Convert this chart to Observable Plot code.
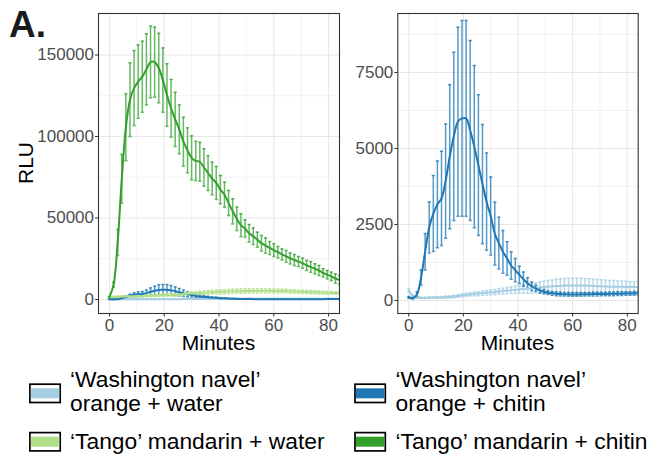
<!DOCTYPE html>
<html>
<head>
<meta charset="utf-8">
<script src="https://cdn.jsdelivr.net/npm/d3@7"></script>
<script src="https://cdn.jsdelivr.net/npm/@observablehq/plot@0.6"></script>
<style>
  html, body { margin: 0; padding: 0; background: #fff; }
  #wrap { position: relative; width: 650px; height: 455px; overflow: hidden; font-family: "Liberation Sans", Arial, sans-serif; }
  #wrap svg { position: absolute; }
  .plot-left { left: 0; top: 0; }
  .plot-right { left: 345px; top: 0; }
</style>
</head>
<body>
<div id="wrap"></div>
<script>
// ---- data (minutes, mean RLU, error) ----
const times = [0,1.5,3,4.5,6,7.5,9,10.5,12,13.5,15,16.5,18,19.5,21,22.5,24,25.5,27,28.5,30,31.5,33,34.5,36,37.5,39,40.5,42,43.5,45,46.5,48,49.5,51,52.5,54,55.5,57,58.5,60,61.5,63,64.5,66,67.5,69,70.5,72,73.5,75,76.5,78,79.5,81,82.5,84];

const navelWaterMean = [330,150,90,85,85,90,95,100,105,110,115,130,150,170,185,200,215,225,240,255,265,280,295,310,325,340,350,365,380,390,400,415,430,445,455,465,475,485,490,495,495,495,495,490,485,480,470,465,460,455,455,450,450,445,440,440,435];
const navelWaterErr = [60,40,20,20,20,25,25,30,30,35,35,40,40,45,50,55,60,65,70,75,80,85,90,95,100,110,120,130,140,150,160,170,180,190,200,210,220,230,235,240,240,240,240,235,230,225,220,215,210,205,200,195,190,185,180,175,170];

const navelChitinMean = [100,80,200,750,1600,2400,2860,3160,3360,3930,4730,5400,5880,5990,5990,5590,5060,4450,3830,3250,2780,2200,1890,1600,1380,1150,1000,840,700,570,470,400,335,290,255,235,220,210,205,200,200,200,200,205,205,210,210,215,215,220,220,225,225,230,230,235,235];
const navelChitinErr = [30,30,80,250,600,840,1250,1425,1550,1880,2370,2770,3110,3220,3220,2960,2670,2315,1960,1600,1280,1030,850,700,550,450,380,285,235,180,140,100,90,70,60,60,60,60,60,60,60,60,60,60,60,60,60,60,60,60,60,60,60,60,60,60,60];

const tangoWaterMean = [1500,1600,1700,1800,1900,2000,2050,2100,2200,2300,2400,2450,2500,2600,2700,2800,2950,3100,3300,3500,3700,3850,4000,4150,4300,4450,4600,4700,4800,4900,5000,5050,5100,5150,5200,5250,5250,5300,5300,5300,5250,5200,5150,5100,5000,4900,4800,4700,4600,4500,4400,4300,4200,4100,4050,4000,3950];
const tangoWaterErr = [400,400,450,450,500,500,550,550,600,600,650,650,700,700,750,750,800,800,850,900,950,1000,1050,1100,1150,1200,1200,1250,1250,1300,1300,1300,1300,1300,1300,1300,1300,1300,1250,1250,1200,1200,1150,1150,1100,1100,1050,1050,1000,1000,950,950,900,900,850,850,800];

const tangoChitinMean = [1400,9000,35000,74000,105700,122600,129700,133700,136700,141200,145700,145600,142000,134600,125400,117300,110500,104400,96800,91500,86900,85000,84500,81000,77600,74200,71500,67400,64300,59200,54100,49500,45600,43600,40600,38800,36700,34500,33100,31600,30300,29000,27700,26500,25200,24200,23300,22300,20900,20000,18800,17800,16300,15200,14200,12900,12000];
const tangoChitinErr = [300,1500,8000,15000,20500,22600,23000,22500,21800,21800,22000,21500,21300,19700,19200,17700,16600,15000,15000,13800,13500,12000,11900,11500,10700,10000,10100,8700,7700,7700,7700,7200,7000,5300,5400,5100,4600,4800,4700,4000,3900,3500,3400,3600,3400,3400,3100,3100,3100,3300,3100,3100,2600,2600,2600,2900,2800];

const seriesNames = ["‘Washington navel’ orange + water", "‘Washington navel’ orange + chitin", "‘Tango’ mandarin + water", "‘Tango’ mandarin + chitin"];
const seriesColors = ["#a6cee3", "#1f78b4", "#b2df8a", "#33a02c"];

const xTicks = [0, 20, 40, 60, 80];
const xMinor = [10, 30, 50, 70];
const yTicksLeft = [0, 50000, 100000, 150000];
const yMinorLeft = [25000, 75000, 125000];
const yTicksRight = [0, 2500, 5000, 7500];
const yMinorRight = [1250, 3750, 6250, 8750];

// ---- build rows ----
function rows(mean, err) {
  return times.map((t, i) => ({t, v: mean[i], lo: mean[i] - err[i], hi: mean[i] + err[i]}));
}
const S = [
  rows(navelWaterMean, navelWaterErr),
  rows(navelChitinMean, navelChitinErr),
  rows(tangoWaterMean, tangoWaterErr),
  rows(tangoChitinMean, tangoChitinErr)
];

const capSymbol = {
  draw(context, size) {
    const r = Math.sqrt(size / Math.PI);
    context.moveTo(-r, 0);
    context.lineTo(r, 0);
  }
};

function panel(idx, opts) {
  const marks = [
    Plot.ruleX(xMinor, {stroke: "#efefef", strokeWidth: 0.8}),
    Plot.ruleY(opts.yMinor, {stroke: "#efefef", strokeWidth: 0.8}),
    Plot.ruleX(xTicks, {stroke: "#e8e8e8", strokeWidth: 1.1}),
    Plot.ruleY(opts.yTicks, {stroke: "#e8e8e8", strokeWidth: 1.1})
  ];
  for (const i of idx) {
    const c = seriesColors[i];
    marks.push(Plot.ruleX(S[i], {x: "t", y1: "lo", y2: "hi", stroke: c, strokeWidth: 1.5, strokeOpacity: 0.75, clip: true}));
    marks.push(Plot.dot(S[i], {x: "t", y: "hi", symbol: capSymbol, r: 1.6, stroke: c, strokeWidth: 1.5, strokeOpacity: 0.75, clip: true}));
    marks.push(Plot.dot(S[i], {x: "t", y: "lo", symbol: capSymbol, r: 1.6, stroke: c, strokeWidth: 1.5, strokeOpacity: 0.75, clip: true}));
  }
  for (const i of idx) {
    marks.push(Plot.line(S[i], {x: "t", y: "v", stroke: seriesColors[i], strokeWidth: 2, curve: "catmull-rom", clip: true}));
  }
  marks.push(Plot.frame({stroke: "#333", strokeWidth: 1.1}));
  marks.push(Plot.axisX(xTicks, {tickSize: 3.5, tickPadding: 1.5, fontSize: 17, stroke: "#333", fill: "#4d4d4d", label: null, tickFormat: d => String(d)}));
  marks.push(Plot.axisY(opts.yTicks, {tickSize: 3, tickPadding: 1.5, fontSize: 17, stroke: "#333", fill: "#4d4d4d", label: null, tickFormat: d => String(d)}));
  return Plot.plot({
    width: opts.width, height: 340,
    marginLeft: opts.ml, marginRight: opts.mr, marginTop: 13, marginBottom: 27,
    x: {domain: [-4, 84]},
    y: {domain: opts.yDomain},
    style: {background: "transparent", overflow: "visible", fontFamily: "Liberation Sans, Arial, sans-serif"},
    className: opts.cls,
    marks
  });
}

const wrap = document.getElementById("wrap");
const left = panel([0, 1, 2, 3], {width: 345, ml: 98, mr: 6, yDomain: [-8590, 175460], yTicks: yTicksLeft, yMinor: yMinorLeft, cls: "plot-left"});
const right = panel([0, 1], {width: 300, ml: 52.3, mr: 7.3, yDomain: [-428, 9441], yTicks: yTicksRight, yMinor: yMinorRight, cls: "plot-right"});
wrap.appendChild(left);
wrap.appendChild(right);

// ---- annotation & legend (real text) ----
const NS = "http://www.w3.org/2000/svg";
const ann = document.createElementNS(NS, "svg");
ann.setAttribute("width", 650); ann.setAttribute("height", 455);
ann.style.left = "0px"; ann.style.top = "0px"; ann.style.pointerEvents = "none";
ann.setAttribute("font-family", "Liberation Sans, Arial, sans-serif");
function txt(x, y, s, attrs = {}) {
  const t = document.createElementNS(NS, "text");
  t.setAttribute("x", x); t.setAttribute("y", y);
  for (const k in attrs) t.setAttribute(k, attrs[k]);
  t.textContent = s;
  ann.appendChild(t);
  return t;
}
function rect(x, y, w, h, attrs) {
  const r = document.createElementNS(NS, "rect");
  r.setAttribute("x", x); r.setAttribute("y", y); r.setAttribute("width", w); r.setAttribute("height", h);
  for (const k in attrs) r.setAttribute(k, attrs[k]);
  ann.appendChild(r);
}
txt(9, 36.5, "A.", {"font-size": 37, "font-weight": "bold", fill: "#1a1a1a"});
txt(0, 0, "RLU", {"font-size": 21, fill: "#000", "text-anchor": "middle", transform: "translate(33,163) rotate(-90)"});
txt(218.5, 349.5, "Minutes", {"font-size": 21, fill: "#000", "text-anchor": "middle"});
txt(517.5, 349.5, "Minutes", {"font-size": 21, fill: "#000", "text-anchor": "middle"});

const legendPos = [
  {kx: 29.9, ky: 384.2, tx: 70, lines: ["‘Washington navel’", "orange + water"], by: 387},
  {kx: 355, ky: 384.2, tx: 395.5, lines: ["‘Washington navel’", "orange + chitin"], by: 387},
  {kx: 29.9, ky: 432.6, tx: 70, lines: ["‘Tango’ mandarin + water"], by: 448.5},
  {kx: 355, ky: 432.6, tx: 395.5, lines: ["‘Tango’ mandarin + chitin"], by: 448.5}
];
legendPos.forEach((p, i) => {
  rect(p.kx, p.ky, 30.3, 18.3, {fill: "#fff", stroke: "#000", "stroke-width": 1.7});
  rect(p.kx + 0.9, p.ky + 4.1, 28.5, 10, {fill: seriesColors[i]});
  p.lines.forEach((l, j) => txt(p.tx, p.by + j * 24, l, {"font-size": 22.8, fill: "#000"}));
});
wrap.appendChild(ann);
</script>
</body>
</html>
